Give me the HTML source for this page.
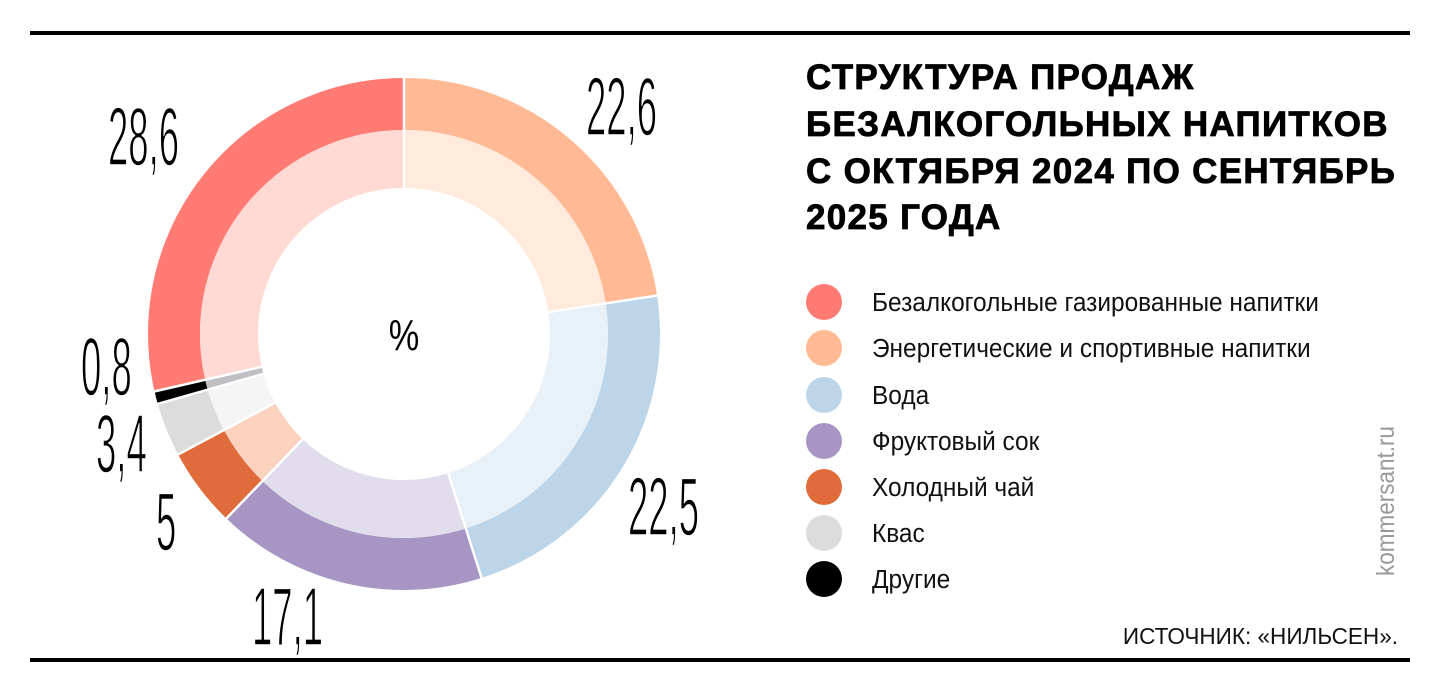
<!DOCTYPE html>
<html><head><meta charset="utf-8"><style>
html,body{margin:0;padding:0;background:#fff;}
svg{display:block;}
</style></head><body>
<svg width="1440" height="693" viewBox="0 0 1440 693" xmlns="http://www.w3.org/2000/svg" font-family="Liberation Sans, sans-serif">
<rect width="1440" height="693" fill="#fff"/>
<rect x="30" y="31" width="1380" height="4" fill="#000"/>
<rect x="30" y="658" width="1380" height="4" fill="#000"/>
<g transform="rotate(-90 404 334)" fill="none">
 <circle cx="404" cy="334" r="230" stroke-width="52" pathLength="100" stroke="#ffba95" stroke-dasharray="22.6 77.4" stroke-dashoffset="0"/>
 <circle cx="404" cy="334" r="230" stroke-width="52" pathLength="100" stroke="#bdd5e8" stroke-dasharray="22.5 77.5" stroke-dashoffset="-22.6"/>
 <circle cx="404" cy="334" r="230" stroke-width="52" pathLength="100" stroke="#a796c4" stroke-dasharray="17.1 82.9" stroke-dashoffset="-45.1"/>
 <circle cx="404" cy="334" r="230" stroke-width="52" pathLength="100" stroke="#e06c3c" stroke-dasharray="5 95" stroke-dashoffset="-62.2"/>
 <circle cx="404" cy="334" r="230" stroke-width="52" pathLength="100" stroke="#dcdcdd" stroke-dasharray="3.4 96.6" stroke-dashoffset="-67.2"/>
 <circle cx="404" cy="334" r="230" stroke-width="52" pathLength="100" stroke="#000" stroke-dasharray="0.8 99.2" stroke-dashoffset="-70.6"/>
 <circle cx="404" cy="334" r="230" stroke-width="52" pathLength="100" stroke="#ff7b74" stroke-dasharray="28.6 71.4" stroke-dashoffset="-71.4"/>
 <circle cx="404" cy="334" r="175" stroke-width="58" pathLength="100" stroke="#ffeadc" stroke-dasharray="22.6 77.4" stroke-dashoffset="0"/>
 <circle cx="404" cy="334" r="175" stroke-width="58" pathLength="100" stroke="#e8f0f8" stroke-dasharray="22.5 77.5" stroke-dashoffset="-22.6"/>
 <circle cx="404" cy="334" r="175" stroke-width="58" pathLength="100" stroke="#e2dded" stroke-dasharray="17.1 82.9" stroke-dashoffset="-45.1"/>
 <circle cx="404" cy="334" r="175" stroke-width="58" pathLength="100" stroke="#fbd2be" stroke-dasharray="5 95" stroke-dashoffset="-62.2"/>
 <circle cx="404" cy="334" r="175" stroke-width="58" pathLength="100" stroke="#f5f5f5" stroke-dasharray="3.4 96.6" stroke-dashoffset="-67.2"/>
 <circle cx="404" cy="334" r="175" stroke-width="58" pathLength="100" stroke="#c0c0c4" stroke-dasharray="0.8 99.2" stroke-dashoffset="-70.6"/>
 <circle cx="404" cy="334" r="175" stroke-width="58" pathLength="100" stroke="#ffd9d3" stroke-dasharray="28.6 71.4" stroke-dashoffset="-71.4"/>
</g>
<g stroke="#fff" stroke-width="2.5">
 <line x1="404" y1="76" x2="404" y2="190"/>
 <line x1="404" y1="76" x2="404" y2="190" transform="rotate(81.36 404 334)"/>
 <line x1="404" y1="76" x2="404" y2="190" transform="rotate(162.36 404 334)"/>
 <line x1="404" y1="76" x2="404" y2="190" transform="rotate(223.92 404 334)"/>
 <line x1="404" y1="76" x2="404" y2="190" transform="rotate(241.92 404 334)"/>
 <line x1="404" y1="76" x2="404" y2="190" transform="rotate(254.16 404 334)"/>
 <line x1="404" y1="76" x2="404" y2="190" transform="rotate(257.04 404 334)"/>
</g>
<g fill="#000" font-size="83" stroke="#fff" stroke-width="1.6">
 <text transform="translate(108,165) scale(0.44,1)">28,6</text>
 <text transform="translate(586,135) scale(0.44,1)">22,6</text>
 <text transform="translate(628,535) scale(0.44,1)">22,5</text>
 <text transform="translate(252,645) scale(0.44,1)">17,1</text>
 <text transform="translate(156,550) scale(0.44,1)">5</text>
 <text transform="translate(96,472) scale(0.44,1)">3,4</text>
 <text transform="translate(81,395) scale(0.44,1)">0,8</text>
</g>
<text transform="translate(404,350) scale(0.78,1)" font-size="44" text-anchor="middle" fill="#000">%</text>
<g font-weight="bold" font-size="35" fill="#000" stroke="#000" stroke-width="0.8" letter-spacing="1.3">
 <text x="806" y="89">СТРУКТУРА ПРОДАЖ</text>
 <text x="806" y="136">БЕЗАЛКОГОЛЬНЫХ НАПИТКОВ</text>
 <text x="806" y="183">С ОКТЯБРЯ 2024 ПО СЕНТЯБРЬ</text>
 <text x="806" y="229">2025 ГОДА</text>
</g>
<g>
 <circle cx="824" cy="302" r="18" fill="#ff7b74"/>
 <circle cx="824" cy="348" r="18" fill="#ffba95"/>
 <circle cx="824" cy="395" r="18" fill="#bdd5e8"/>
 <circle cx="824" cy="441" r="18" fill="#a796c4"/>
 <circle cx="824" cy="487" r="18" fill="#e06c3c"/>
 <circle cx="824" cy="533" r="18" fill="#dcdcdd"/>
 <circle cx="824" cy="579" r="18" fill="#000"/>
</g>
<g font-size="26" fill="#111">
 <text transform="translate(872,311) scale(0.94,1)">Безалкогольные газированные напитки</text>
 <text transform="translate(872,357) scale(0.94,1)">Энергетические и спортивные напитки</text>
 <text transform="translate(872,404) scale(0.94,1)">Вода</text>
 <text transform="translate(872,450) scale(0.94,1)">Фруктовый сок</text>
 <text transform="translate(872,496) scale(0.94,1)">Холодный чай</text>
 <text transform="translate(872,542) scale(0.94,1)">Квас</text>
 <text transform="translate(872,588) scale(0.94,1)">Другие</text>
</g>
<text transform="translate(1394,576) rotate(-90) scale(0.9,1)" font-size="25" fill="#999">kommersant.ru</text>
<text transform="translate(1398,644) scale(0.98,1)" font-size="23" fill="#111" text-anchor="end">ИСТОЧНИК: «НИЛЬСЕН».</text>
</svg>
</body></html>
